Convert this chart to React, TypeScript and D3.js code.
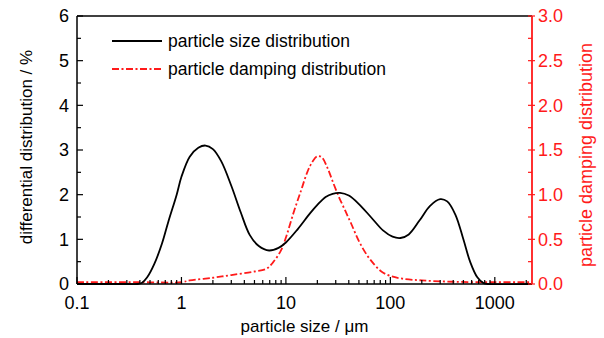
import * as d3 from 'd3';

// ─── Data ───────────────────────────────────────────────────

// particle size (µm) vs differential distribution (%)
const SIZE_X = [0.1, 0.3, 0.38, 0.42, 0.47, 0.55, 0.65, 0.75, 0.9, 1.0, 1.2, 1.45, 1.7, 2.0, 2.4, 3.0, 3.7, 4.5, 5.5, 6.9, 8.5, 10, 13, 17, 20, 24, 28, 33, 40, 50, 65, 85, 105, 125, 150, 190, 240, 300, 350, 420, 500, 580, 680, 780, 850, 2300];
const SIZE_Y = [0, 0, 0, 0.03, 0.15, 0.45, 0.9, 1.4, 2.0, 2.4, 2.85, 3.05, 3.1, 3.02, 2.75, 2.2, 1.6, 1.1, 0.85, 0.75, 0.81, 0.93, 1.23, 1.58, 1.77, 1.95, 2.02, 2.04, 1.98, 1.79, 1.5, 1.2, 1.06, 1.03, 1.11, 1.42, 1.75, 1.9, 1.85, 1.55, 1.0, 0.5, 0.15, 0.02, 0, 0];

// particle size (µm) vs particle damping distribution
const DAMP_X = [0.1, 0.4, 1.0, 1.2, 2.0, 3.0, 5.0, 6.5, 7.5, 9, 10, 12, 14, 16, 18, 20, 22, 25, 28, 32, 37, 42, 50, 60, 70, 82, 100, 130, 200, 400, 1000, 2300];
const DAMP_Y = [0.02, 0.02, 0.02, 0.04, 0.07, 0.1, 0.14, 0.17, 0.24, 0.38, 0.52, 0.82, 1.05, 1.25, 1.37, 1.43, 1.42, 1.3, 1.15, 0.98, 0.82, 0.68, 0.48, 0.32, 0.22, 0.14, 0.09, 0.06, 0.04, 0.025, 0.02, 0.02];

const X_TICKS = [0.1, 1, 10, 100, 1000];
const Y_LEFT_TICKS = [0, 1, 2, 3, 4, 5, 6];
const Y_RIGHT_TICKS = [0, 0.5, 1.0, 1.5, 2.0, 2.5, 3.0];

const LEGEND = ['particle size distribution', 'particle damping distribution'];

// ─── Layout ─────────────────────────────────────────────────

const W = 604;
const H = 338;
const M = { left: 77, right: 72, top: 16, bottom: 54 };
const RED = '#ff1a1a';
const FONT = '"Liberation Sans", Arial, sans-serif';

export default function App() {
  const x = d3.scaleLog().domain([0.1, 2270]).range([M.left, W - M.right]);
  const yL = d3.scaleLinear().domain([0, 6]).range([H - M.bottom, M.top]);
  const yR = d3.scaleLinear().domain([0, 3]).range([H - M.bottom, M.top]);

  const x0 = M.left;
  const x1 = W - M.right;
  const yb = H - M.bottom;
  const yt = M.top;

  const sizePts = SIZE_X.map((v, i) => [v, SIZE_Y[i]] as [number, number]);
  const dampPts = DAMP_X.map((v, i) => [v, DAMP_Y[i]] as [number, number]);

  const curve = d3.curveCatmullRom.alpha(0.5);
  const lineL = d3.line<[number, number]>().x((d) => x(d[0])).y((d) => Math.min(yb, yL(d[1]))).curve(curve);
  const lineR = d3.line<[number, number]>().x((d) => x(d[0])).y((d) => yR(d[1])).curve(curve);

  // minor log ticks 2..9 in every decade inside domain
  const minorX: number[] = [];
  for (let dec = 0.1; dec < 3000; dec *= 10) {
    for (let k = 2; k <= 9; k++) {
      const v = +(dec * k).toPrecision(3);
      if (v <= 2270) minorX.push(v);
    }
  }
  const minorL = d3.range(0.5, 6, 1);
  const minorR = d3.range(0.25, 3, 0.5);

  return (
    <svg width={W} height={H} style={{ position: 'absolute', left: 0, top: 0, background: '#fff' }} fontFamily={FONT}>
      <defs>
        <clipPath id="plot">
          <rect x={x0} y={yt} width={x1 - x0} height={yb - yt + 1} />
        </clipPath>
      </defs>

      {/* curves */}
      <g clipPath="url(#plot)">
        <path d={lineR(dampPts) ?? ''} fill="none" stroke={RED} strokeWidth={1.8} strokeDasharray="7,2.5,2,2.5" />
        <path d={lineL(sizePts) ?? ''} fill="none" stroke="#000" strokeWidth={1.8} />
      </g>

      {/* frame */}
      <line x1={x0} x2={x1} y1={yt} y2={yt} stroke="#000" strokeWidth={1.5} />
      <line x1={x0} x2={x0} y1={yt} y2={yb} stroke="#000" strokeWidth={1.5} />
      <line x1={x0} x2={x1} y1={yb} y2={yb} stroke="#000" strokeWidth={1.5} />
      <line x1={x1} x2={x1} y1={yt} y2={yb} stroke={RED} strokeWidth={1.8} />

      {/* bottom axis */}
      {minorX.map((v) => (
        <line key={'mx' + v} x1={x(v)} x2={x(v)} y1={yb} y2={yb - 4} stroke="#000" strokeWidth={1.2} />
      ))}
      {X_TICKS.map((v) => (
        <g key={'x' + v}>
          <line x1={x(v)} x2={x(v)} y1={yb} y2={yb - 7} stroke="#000" strokeWidth={1.2} />
          <text x={x(v)} y={yb + 25} textAnchor="middle" fontSize={18} fill="#000">{v}</text>
        </g>
      ))}
      <text x={(x0 + x1) / 2} y={H - 6} textAnchor="middle" fontSize={17} fill="#000">particle size / μm</text>

      {/* left axis */}
      {minorL.map((v) => (
        <line key={'ml' + v} x1={x0} x2={x0 + 4} y1={yL(v)} y2={yL(v)} stroke="#000" strokeWidth={1.2} />
      ))}
      {Y_LEFT_TICKS.map((v) => (
        <g key={'yl' + v}>
          <line x1={x0} x2={x0 + 6} y1={yL(v)} y2={yL(v)} stroke="#000" strokeWidth={1.2} />
          <text x={x0 - 8} y={yL(v)} dy="0.36em" textAnchor="end" fontSize={18} fill="#000">{v}</text>
        </g>
      ))}
      <text transform={`translate(32,${(yt + yb) / 2 - 3}) rotate(-90)`} textAnchor="middle" fontSize={17} fill="#000">
        differential distribution / %
      </text>

      {/* right axis */}
      {minorR.map((v) => (
        <line key={'mr' + v} x1={x1} x2={x1 - 4} y1={yR(v)} y2={yR(v)} stroke={RED} strokeWidth={1.2} />
      ))}
      {Y_RIGHT_TICKS.map((v) => (
        <g key={'yr' + v}>
          <line x1={x1 - 4} x2={x1 + 3} y1={yR(v)} y2={yR(v)} stroke={RED} strokeWidth={1.2} />
          <text x={x1 + 6} y={yR(v)} dy="0.36em" textAnchor="start" fontSize={18} fill={RED}>{v.toFixed(1)}</text>
        </g>
      ))}
      <text transform={`translate(592,${(yt + yb) / 2 + 5}) rotate(-90)`} textAnchor="middle" fontSize={18} fill={RED}>
        particle damping distribution
      </text>

      {/* legend */}
      <g transform="translate(112,41)">
        <line x1={0} x2={50} y1={0} y2={0} stroke="#000" strokeWidth={1.8} />
        <text x={56} y={0} dy="0.36em" fontSize={17.5} fill="#000">{LEGEND[0]}</text>
        <line x1={0} x2={50} y1={28} y2={28} stroke={RED} strokeWidth={1.8} strokeDasharray="7,2.5,2,2.5" />
        <text x={56} y={28} dy="0.36em" fontSize={17.5} fill="#000">{LEGEND[1]}</text>
      </g>
    </svg>
  );
}
